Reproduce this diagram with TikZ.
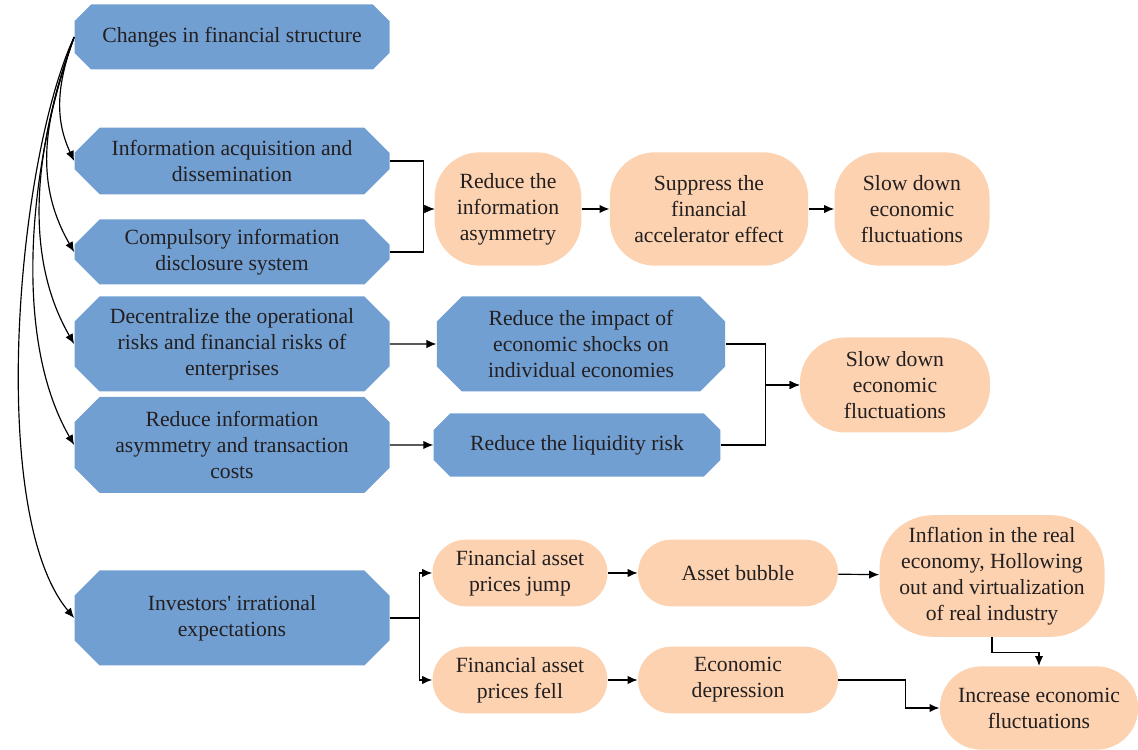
\documentclass[tikz,border=0pt]{standalone}
\usepackage{fontspec}
\setmainfont{Liberation Serif}
\usetikzlibrary{shapes.misc,arrows.meta}
\definecolor{octblue}{RGB}{114,159,210}
\definecolor{pillorange}{RGB}{252,210,176}
\definecolor{inkdark}{RGB}{35,31,32}
\tikzset{
  cause/.style={chamfered rectangle,chamfered rectangle xsep=12pt,fill=octblue,align=center,text=inkdark,inner sep=1pt,font=\fontsize{13}{15.6}\selectfont},
  effect/.style={rectangle,rounded corners=20pt,fill=pillorange,align=center,text=inkdark,inner sep=1pt,font=\fontsize{13}{15.6}\selectfont},
  link/.style={-{Latex[length=6pt,width=5pt]},line width=0.7pt},
}
\begin{document}
\begin{tikzpicture}[x=0.6pt,y=-0.6pt]
\useasboundingbox (0,0) rectangle (1138,750);
\node[cause,minimum width=189pt,minimum height=39pt] (fin) at (232,37) {Changes in financial structure};
\node[cause,minimum width=189pt,minimum height=40pt] (acq) at (232,161) {Information acquisition and\\dissemination};
\node[cause,minimum width=189pt,minimum height=39pt] (disc) at (232,252) {Compulsory information\\disclosure system};
\node[cause,minimum width=189pt,minimum height=57pt] (dec) at (232,344) {Decentralize the operational\\risks and financial risks of\\enterprises};
\node[cause,minimum width=189pt,minimum height=57.6pt] (trans) at (232,445) {Reduce information\\asymmetry and transaction\\costs};
\node[cause,minimum width=189pt,minimum height=57pt] (irr) at (232,618) {Investors\textquotesingle{} irrational\\expectations};
\node[cause,minimum width=173pt,minimum height=57pt] (shock) at (581,344) {Reduce the impact of\\economic shocks on\\individual economies};
\node[cause,minimum width=172pt,minimum height=38pt] (liq) at (577,445) {Reduce the liquidity risk};
\node[effect,rounded corners=27pt,minimum width=88pt,minimum height=68pt] (asym) at (508,209) {Reduce the\\information\\asymmetry};
\node[effect,rounded corners=27pt,minimum width=119pt,minimum height=68pt] (accel) at (709,209) {Suppress the\\financial\\accelerator effect};
\node[effect,rounded corners=27pt,minimum width=93pt,minimum height=68pt] (slowA) at (912,209) {Slow down\\economic\\fluctuations};
\node[effect,rounded corners=27pt,minimum width=114pt,minimum height=57pt] (slowB) at (895,385) {Slow down\\economic\\fluctuations};
\node[effect,minimum width=105pt,minimum height=40pt] (jump) at (520,573) {Financial asset\\prices jump};
\node[effect,minimum width=120pt,minimum height=40pt] (bubble) at (738,573) {Asset bubble};
\node[effect,rounded corners=32pt,minimum width=135pt,minimum height=73pt] (infl) at (992,576) {Inflation in the real\\economy, Hollowing\\out and virtualization\\of real industry};
\node[effect,minimum width=105pt,minimum height=40pt] (fell) at (520,680) {Financial asset\\prices fell};
\node[effect,minimum width=120pt,minimum height=40pt] (depr) at (738,680) {Economic\\depression};
\node[effect,rounded corners=25pt,minimum width=119pt,minimum height=50pt] (incr) at (1039,708) {Increase economic\\fluctuations};
\draw[link] (fin.west) to[out=250,in=115] (acq.west);
\draw[link] (fin.west) to[out=250,in=120] (disc.west);
\draw[link] (fin.west) to[out=250,in=120,looseness=0.9] (dec.west);
\draw[link] (fin.west) to[out=250,in=120,looseness=0.8] (trans.west);
\draw[link] (fin.west) to[out=245,in=130,looseness=0.6] (irr.west);
\draw[link] (acq.east) -- ++(34,0) |- (asym.west);
\draw[link] (disc.east) -- ++(34,0) |- (asym.west);
\draw[link] (asym) -- (accel);
\draw[link] (accel) -- (slowA);
\draw[link] (dec) -- (shock);
\draw[link] (trans) -- (liq);
\draw[link] (shock.east) -- ++(40,0) |- (slowB.west);
\draw[link] (liq.east) -- ++(45,0) |- (slowB.west);
\draw[link] (irr.east) -- ++(30,0) |- (jump.west);
\draw[link] (irr.east) -- ++(30,0) |- (fell.west);
\draw[link] (jump) -- (bubble);
\draw[link] (bubble) -- (infl);
\draw[link] (fell) -- (depr);
\draw[link] (infl.south) -- ++(0,15) -| (incr.north);
\draw[link] (depr.east) -- ++(67,0) |- (incr.west);
\end{tikzpicture}
\end{document}
